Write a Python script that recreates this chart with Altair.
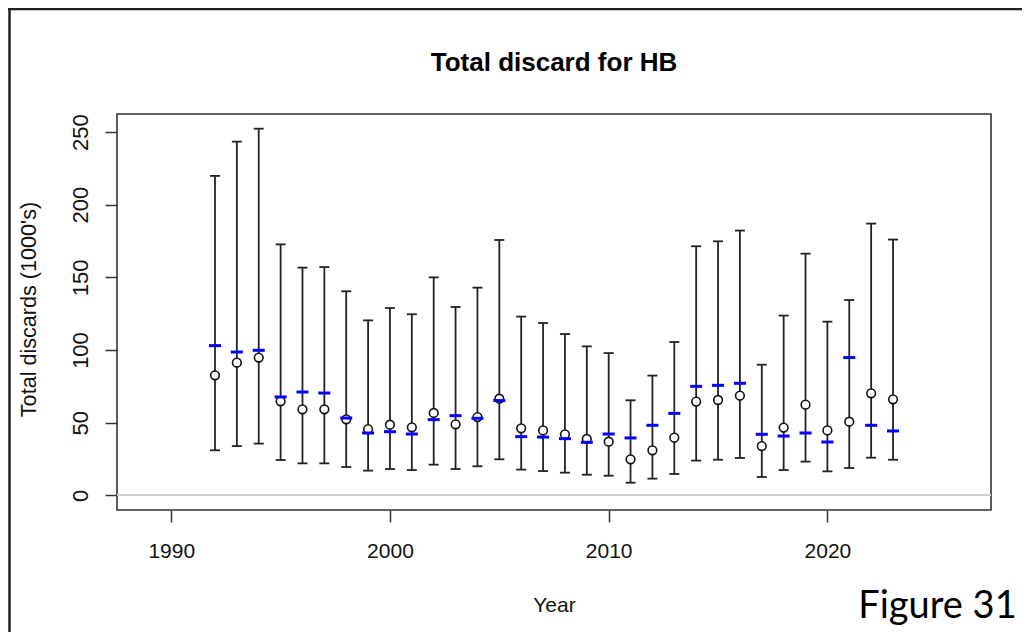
import altair as alt
import pandas as pd

years = list(range(1992, 2024))
estimate = [82.6, 91.3, 94.8, 64.7, 59.2, 59.2, 52.3, 45.6, 48.6, 46.8, 56.7, 48.9,
            53.9, 66.5, 46.1, 44.7, 42.0, 38.8, 36.9, 24.8, 31.0, 39.7, 64.5, 65.6,
            68.6, 33.9, 46.6, 62.4, 44.7, 50.7, 70.2, 66.1]
blue_mean = [103.0, 98.6, 99.8, 67.7, 71.1, 70.4, 53.2, 42.9, 43.8, 42.2, 52.1, 54.8,
             53.0, 65.2, 40.4, 40.1, 39.0, 36.5, 42.2, 39.5, 48.2, 56.4, 75.0, 75.7,
             77.1, 42.0, 40.8, 42.9, 36.7, 94.8, 48.2, 44.3]
lower = [31.0, 33.9, 35.6, 24.3, 22.0, 22.0, 19.5, 17.0, 18.1, 17.4, 21.1, 18.1,
         20.0, 24.8, 17.7, 16.7, 15.6, 14.2, 13.5, 8.7, 11.5, 14.7, 23.9, 24.5,
         25.7, 12.6, 17.4, 23.2, 16.5, 18.8, 25.9, 24.5]
upper = [219.8, 243.4, 252.3, 172.7, 156.7, 157.1, 140.4, 120.4, 128.9, 124.6, 150.0, 129.6,
         142.9, 175.7, 123.0, 118.6, 111.0, 102.5, 97.9, 65.4, 82.4, 105.5, 171.4, 174.8,
         182.2, 89.9, 123.7, 166.3, 119.5, 134.4, 187.0, 176.0]
x_ticks = [1990, 2000, 2010, 2020]
y_ticks = [0, 50, 100, 150, 200, 250]
title_text = ["Total discard for HB"]
figure_text = ["Figure 31"]

df = pd.DataFrame({"year": years, "est": estimate, "mean": blue_mean,
                   "lo": lower, "hi": upper})

FONT = "Liberation Sans"
TXT = "#111111"
LINE = "#333333"

x_scale = alt.Scale(domain=[1987.52, 2027.48], nice=False, zero=False)
y_scale = alt.Scale(domain=[-10.09, 262.4], nice=False, zero=False)

x_axis = alt.Axis(values=x_ticks, format="d", title="Year", grid=False, domain=False,
                  tickSize=12, tickWidth=1.5, tickColor=LINE,
                  labelFont=FONT, labelFontSize=21, labelColor=TXT, labelPadding=35.6,
                  labelBaseline="alphabetic", labelFlush=False,
                  titleFont=FONT, titleFontSize=21, titleFontWeight="normal", titleColor=TXT,
                  titleX=437, titleY=101, titleBaseline="alphabetic", titleAlign="center")
y_axis = alt.Axis(values=y_ticks, format="d", title="Total discards (1000's)", grid=False,
                  domain=False, tickSize=12, tickWidth=1.5, tickColor=LINE,
                  labelFont=FONT, labelFontSize=22, labelColor=TXT, labelPadding=17.4,
                  labelAngle=270, labelAlign="center", labelBaseline="alphabetic",
                  labelFlush=False,
                  titleFont=FONT, titleFontSize=21.6, titleFontWeight="normal", titleColor=TXT,
                  titleAngle=270, titleX=-81.7, titleY=195, titleBaseline="alphabetic",
                  titleAlign="center")


def X(field="year"):
    return alt.X(f"{field}:Q", scale=x_scale, axis=x_axis)


def Y(field):
    return alt.Y(f"{field}:Q", scale=y_scale, axis=y_axis)


base = alt.Chart(df)

zero_line = base.mark_rule(color="#cfcfcf", strokeWidth=1.5).encode(
    y=alt.Y(datum=0, scale=y_scale, axis=y_axis)
)
bars = base.mark_rule(color="#222222", strokeWidth=1.8).encode(
    x=X(), y=Y("lo"), y2="hi"
)
cap_hi = base.mark_rule(color="#222222", strokeWidth=1.8, xOffset=-5, x2Offset=5).encode(
    x=X(), x2="year", y=Y("hi")
)
cap_lo = base.mark_rule(color="#222222", strokeWidth=1.8, xOffset=-5, x2Offset=5).encode(
    x=X(), x2="year", y=Y("lo")
)
points = base.mark_point(shape="circle", fill="white", filled=False, stroke="#111111",
                         strokeWidth=1.6, size=75, opacity=1).encode(
    x=X(), y=Y("est")
)
dashes = base.mark_rule(color="#0000ff", strokeWidth=3, xOffset=-6, x2Offset=6).encode(
    x=X(), x2="year", y=Y("mean")
)

title_df = pd.DataFrame({"label": title_text})
title_mark = alt.Chart(title_df).mark_text(
    font=FONT, fontSize=26, fontWeight="bold", color="#000000", align="center",
    baseline="alphabetic"
).encode(x=alt.value(437), y=alt.value(-42.6), text="label:N")

fig_df = pd.DataFrame({"label": figure_text})
fig_label = alt.Chart(fig_df).mark_text(
    font="Lato", fontSize=38, color="#000000", align="left", baseline="alphabetic"
).encode(x=alt.value(741.3), y=alt.value(504), text="label:N")

frame_df = pd.DataFrame({"k": [0]})
frame_top = alt.Chart(frame_df).mark_rule(color="#222222", strokeWidth=2.5).encode(
    x=alt.value(-109), x2=alt.value(905), y=alt.value(-105)
)
frame_left = alt.Chart(frame_df).mark_rule(color="#222222", strokeWidth=2.5).encode(
    x=alt.value(-107.5), y=alt.value(-106), y2=alt.value(518)
)

chart = alt.layer(
    zero_line, bars, cap_hi, cap_lo, points, dashes, title_mark, fig_label,
    frame_top, frame_left
).properties(
    width=874, height=396,
    autosize=alt.AutoSizeParams(type="none"),
    padding={"left": 109, "top": 106, "right": 31, "bottom": 122},
).configure_view(stroke=LINE, strokeWidth=1.6)

chart.save("out.html", embed_options={"renderer": "svg", "actions": False})
